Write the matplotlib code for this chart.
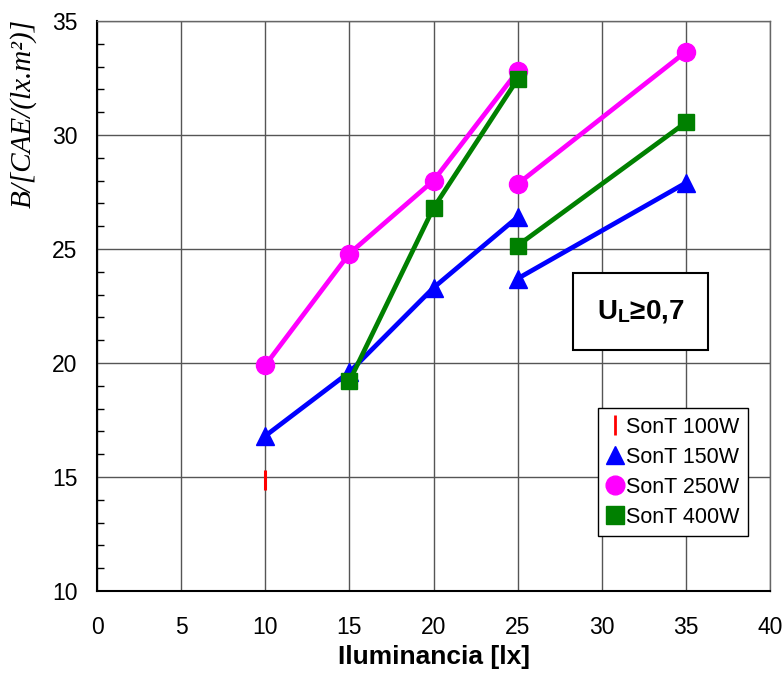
import numpy as np
import matplotlib
matplotlib.use("Agg")
import matplotlib.pyplot as plt
from matplotlib.lines import Line2D
from matplotlib.patches import Rectangle

plt.rcParams['font.family'] = ['Liberation Sans', 'DejaVu Sans']
plt.rcParams['mathtext.fontset'] = 'custom'
plt.rcParams['mathtext.rm'] = 'Liberation Sans'
plt.rcParams['mathtext.bf'] = 'Liberation Sans:bold'
plt.rcParams['mathtext.it'] = 'Liberation Serif:italic'

# ---- data ----
x_100 = [10]
y_100 = [14.85]

x_150 = [10, 15, 20, 25, np.nan, 25, 35]
y_150 = [16.8, 19.6, 23.3, 26.4, np.nan, 23.7, 27.9]

x_250 = [10, 15, 20, 25, np.nan, 25, 35]
y_250 = [19.9, 24.8, 28.0, 32.8, np.nan, 27.85, 33.65]

x_400 = [15, 20, 25, np.nan, 25, 35]
y_400 = [19.2, 26.8, 32.45, np.nan, 25.15, 30.55]

labels = ['SonT 100W', 'SonT 150W', 'SonT 250W', 'SonT 400W']
x_ticks = [0, 5, 10, 15, 20, 25, 30, 35, 40]
y_ticks = [10, 15, 20, 25, 30, 35]

# ---- figure ----
fig = plt.figure(figsize=(7.82, 6.73), dpi=100)
ax = fig.add_axes([97/782, 82/673, 673/782, 570/673])

ax.set_xlim(0, 40)
ax.set_ylim(10, 35)
ax.set_xticks(x_ticks)
ax.set_yticks(y_ticks)
ax.set_yticks(np.arange(10, 36, 1), minor=True)
ax.grid(True, which='major', color='#555555', linewidth=1.0)
ax.set_axisbelow(True)
ax.tick_params(axis='x', length=0, pad=18, labelsize=16.5)
ax.tick_params(axis='y', which='major', length=0, pad=14, labelsize=16.5)
ax.tick_params(axis='y', which='minor', direction='in', length=5, width=1, color='black')
ax.tick_params(axis='x', which='minor', length=0)

for s in ['top', 'right']:
    ax.spines[s].set_color('#666666')
    ax.spines[s].set_linewidth(1.0)
for s in ['left', 'bottom']:
    ax.spines[s].set_color('black')
    ax.spines[s].set_linewidth(1.5)

lw = 3.4
ax.plot(x_100, y_100, linestyle='none', marker='|', color='red', markersize=15, markeredgewidth=2.2, zorder=3)
ax.plot(x_150, y_150, color='#0000FF', linewidth=lw, marker='^', markersize=13, zorder=3)
ax.plot(x_250, y_250, color='#FF00FF', linewidth=lw, marker='o', markersize=13, zorder=3)
ax.plot(x_400, y_400, color='#008000', linewidth=lw, marker='s', markersize=12, zorder=3)

handles = [
    Line2D([], [], linestyle='none', marker='|', color='red', markersize=14, markeredgewidth=2),
    Line2D([], [], linestyle='none', marker='^', color='#0000FF', markersize=13.5),
    Line2D([], [], linestyle='none', marker='o', color='#FF00FF', markersize=13.5),
    Line2D([], [], linestyle='none', marker='s', color='#008000', markersize=13.5),
]
leg = ax.legend(handles, labels, loc='upper left', bbox_to_anchor=(0.745, 0.321),
                borderaxespad=0, fontsize=15.5, frameon=True, fancybox=False,
                edgecolor='black', framealpha=1, handlelength=0.7, handletextpad=0.2,
                labelspacing=0.42, borderpad=0.4)
leg.get_frame().set_linewidth(1.0)
leg.set_zorder(5)

ax.add_patch(Rectangle((0.707, 0.4228), 0.2006, 0.135, transform=ax.transAxes,
                       facecolor='white', edgecolor='black', linewidth=1.5, zorder=5))
ax.text(0.8076, 0.49, r'U$_\mathbf{L}$≥0,7', transform=ax.transAxes, ha='center', va='center',
        fontsize=20, fontweight='bold', zorder=6)

ax.set_xlabel('Iluminancia [lx]', fontsize=19, fontweight='bold')
ax.xaxis.set_label_coords(0.5, -0.095)
ax.set_ylabel('B/[CAE/(lx.m²)]', fontsize=21, family='Liberation Serif', style='italic')
ax.yaxis.set_label_coords(-0.089, 0.838)

fig.savefig('out.png', dpi=100)
